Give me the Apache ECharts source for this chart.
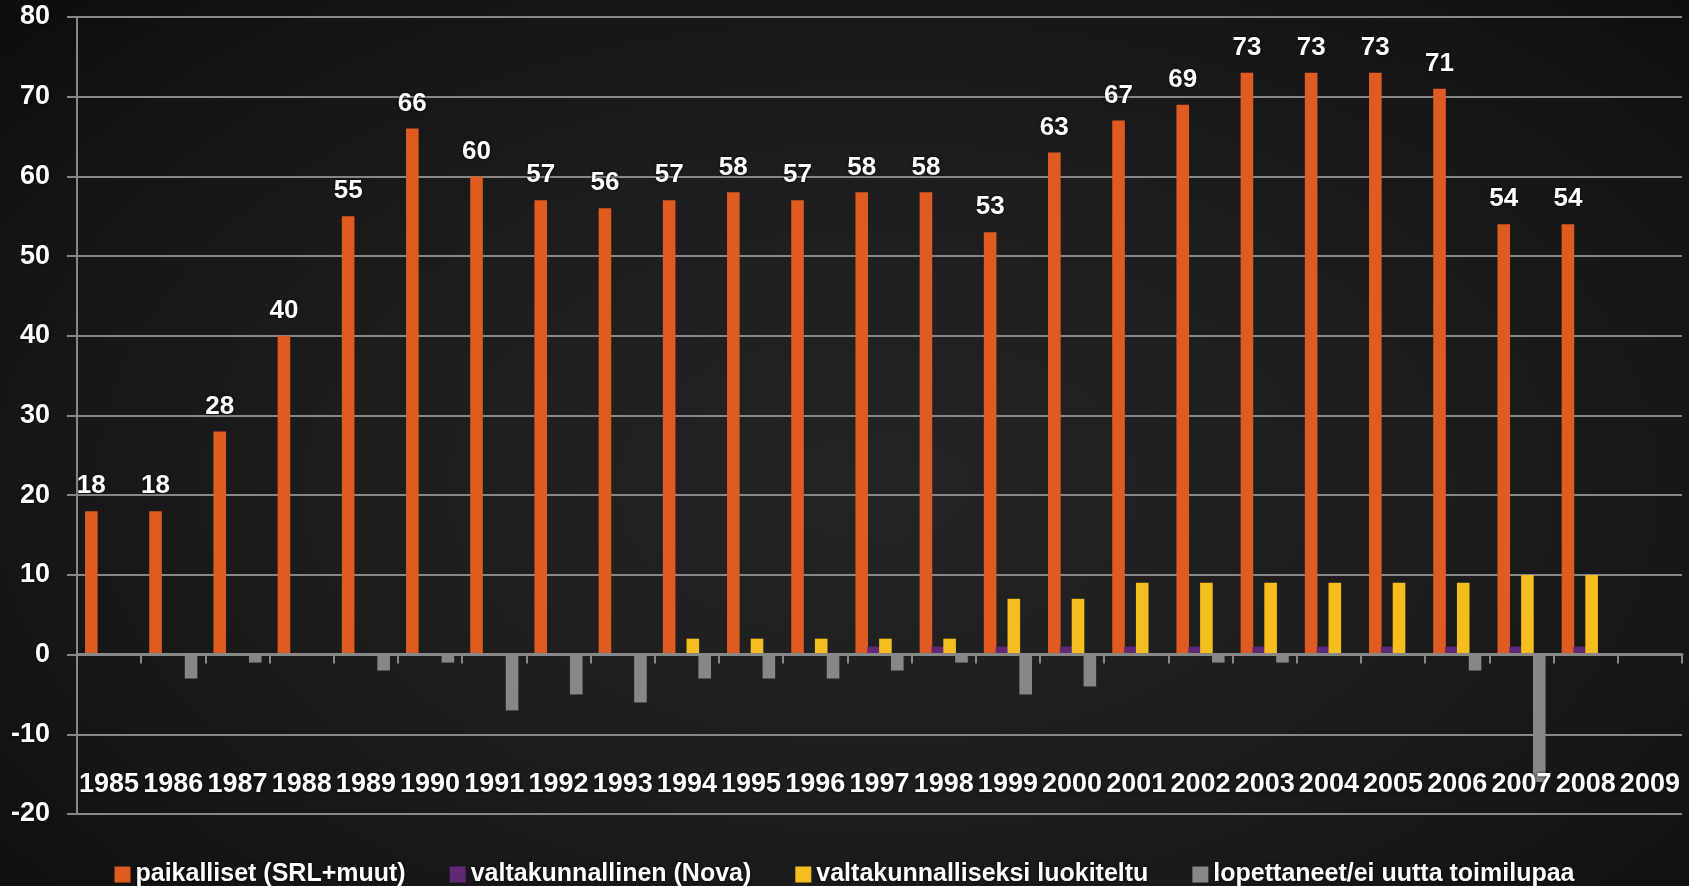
<!DOCTYPE html>
<html>
<head>
<meta charset="utf-8">
<script src="https://cdn.jsdelivr.net/npm/echarts@6/dist/echarts.min.js"></script>
<style>
html,body{margin:0;padding:0;}
#chart{width:1689px;height:886px;background:radial-gradient(ellipse 70% 80% at 52% 55%, #242424 0%, #1d1d1d 45%, #141414 80%, #0d0d0d 100%);}
</style>
</head>
<body>
<div id="chart"></div>
<script>
var years = ['1985','1986','1987','1988','1989','1990','1991','1992','1993','1994','1995','1996','1997','1998','1999','2000','2001','2002','2003','2004','2005','2006','2007','2008','2009'];
var paikalliset = [18,18,28,40,55,66,60,57,56,57,58,57,58,58,53,63,67,69,73,73,73,71,54,54,null];
var valtakunnallinen = [null,null,null,null,null,null,null,null,null,null,null,null,1,1,1,1,1,1,1,1,1,1,1,1,null];
var luokiteltu = [null,null,null,null,null,null,null,null,null,2,2,2,2,2,7,7,9,9,9,9,9,9,10,10,null];
var lopettaneet = [null,-3,-1,null,-2,-1,-7,-5,-6,-3,-3,-3,-2,-1,-5,-4,null,-1,-1,null,null,-2,-16,null,null];
var seriesNames = ['paikalliset (SRL+muut)','valtakunnallinen (Nova)','valtakunnalliseksi luokiteltu','lopettaneet/ei uutta toimilupaa'];
var colors = ['#DE5C22','#5E2A76','#F5BD1F','#878787'];

var font = 'Liberation Sans, Arial, sans-serif';
var shadow = {textShadowColor:'rgba(0,0,0,0.9)', textShadowBlur:3};
var chart = echarts.init(document.getElementById('chart'));
function mk(name, data, color, withLabel){
  var s = {
    name: name, type: 'bar', data: data,
    xAxisIndex: 0,
    itemStyle: {color: color},
    barWidth: 12.6, barGap: '-6%',
    z: 2
  };
  if (withLabel) {
    s.label = Object.assign({show:true, position:'top', distance:12, color:'#fff', fontSize:26, fontWeight:'bold', fontFamily:font}, shadow);
  }
  return s;
}
chart.setOption({
  backgroundColor: 'transparent',
  animation: false,
  color: colors,
  grid: {left:77, right:7, top:17, bottom:72, containLabel:false, outerBoundsMode:'none'},
  legend: {
    top: 857, left: 'center',
    icon: 'rect', itemWidth: 16, itemHeight: 16, itemGap: 44,
    textStyle: Object.assign({color:'#fff', fontSize:25, fontWeight:'bold', fontFamily:font}, shadow),
    data: seriesNames
  },
  xAxis: [{
    type: 'category', data: years, z: 3,
    axisLine: {onZero:true, lineStyle:{color:'#888', width:3}},
    axisTick: {show:true, length:9, lineStyle:{color:'#888', width:2}},
    axisLabel: {show:false}
  }, {
    type: 'category', data: years, z: 4, position: 'bottom',
    axisLine: {show:false, onZero:false},
    axisTick: {show:false},
    axisLabel: Object.assign({inside:true, color:'#fff', fontSize:27, fontWeight:'bold', fontFamily:font, margin:16, interval:0}, shadow)
  }],
  yAxis: {
    type: 'value', min: -20, max: 80, interval: 10,
    axisLine: {show:true, lineStyle:{color:'#888', width:2}},
    axisTick: {show:true, length:10, lineStyle:{color:'#888', width:2}},
    splitLine: {show:true, lineStyle:{color:'#888', width:2}},
    axisLabel: Object.assign({color:'#fff', fontSize:27, fontWeight:'bold', fontFamily:font, margin:27}, shadow)
  },
  series: [
    mk(seriesNames[0], paikalliset, colors[0], true),
    mk(seriesNames[1], valtakunnallinen, colors[1], false),
    mk(seriesNames[2], luokiteltu, colors[2], false),
    mk(seriesNames[3], lopettaneet, colors[3], false)
  ]
});
</script>
</body>
</html>
